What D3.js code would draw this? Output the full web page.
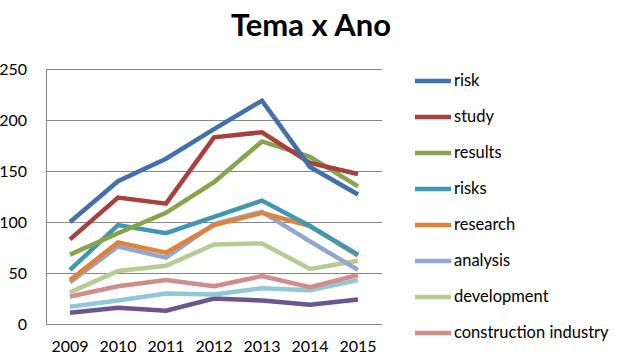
<!DOCTYPE html>
<html lang="pt">
<head>
    <meta charset="utf-8">
    <title>Tema x Ano</title>
    <script type="text/javascript" src="https://cdnjs.cloudflare.com/ajax/libs/d3/7.8.5/d3.min.js"></script>
    <style>
      body { margin: 0; background: #fff; }
      text { font-family: Lato, "Open Sans", sans-serif; fill: #000; }
    </style>
</head>
<body>
    <script type="text/javascript">
      // data
      var years = ["2009", "2010", "2011", "2012", "2013", "2014", "2015"];
      var seriesNames = ["risk", "study", "results", "risks", "research", "analysis",
                         "development", "construction industry", "series 9", "series 10"];
      var risk         = [100, 140, 162, 191, 219, 154, 127];
      var study        = [83, 124, 118, 183, 188, 158, 147];
      var results      = [68, 89, 109, 139, 179, 164, 135];
      var risks        = [53, 97, 89, 105, 121, 96, 68];
      var research     = [43, 80, 70, 97, 109, 96, 67];
      var analysis     = [41, 76, 65, 98, 110, 81, 53];
      var development  = [31, 52, 57, 78, 79, 54, 62];
      var construction = [27, 37, 43, 37, 47, 36, 48];
      var series9      = [17, 23, 30, 29, 35, 33, 43];
      var series10     = [11, 16, 13, 25, 23, 19, 24];
      var yTicks = [0, 50, 100, 150, 200, 250];

      var allValues = [risk, study, results, risks, research, analysis,
                       development, construction, series9, series10];
      var colors = ["#4170AC", "#A8403D", "#86A44A", "#3F98AF", "#E0823C", "#92A7CF",
                    "#B6CC93", "#CF8D8B", "#92C7D8", "#6C5591"];

      var width = 619, height = 358;
      var plot = {left: 46, right: 382, top: 69, bottom: 324};

      var svg = d3.select("body").append("svg")
                  .attr("width", width)
                  .attr("height", height);

      var x = d3.scaleBand().domain(years).range([plot.left, plot.right]);
      var y = d3.scaleLinear().domain([0, 250]).range([plot.bottom, plot.top]);

      // title
      svg.append("text")
         .attr("x", 311).attr("y", 36)
         .attr("text-anchor", "middle")
         .style("font-size", "31px").style("font-weight", "bold")
         .text("Tema x Ano");

      // gridlines
      svg.append("g").selectAll("line").data(yTicks).enter().append("line")
         .attr("x1", plot.left).attr("x2", plot.right)
         .attr("y1", function(d) { return y(d) + 0.5; })
         .attr("y2", function(d) { return y(d) + 0.5; })
         .attr("stroke", "#878787").attr("stroke-width", 1);

      // y axis line
      svg.append("line")
         .attr("x1", plot.left + 0.5).attr("x2", plot.left + 0.5)
         .attr("y1", plot.top).attr("y2", plot.bottom)
         .attr("stroke", "#878787");

      // y axis labels
      var yAxis = d3.axisLeft(y).tickValues(yTicks).tickSize(0).tickPadding(19);
      svg.append("g")
         .attr("transform", "translate(" + plot.left + ",0)")
         .call(yAxis)
         .call(function(g) { g.select(".domain").remove(); })
         .selectAll("text")
         .style("font-size", "16px");

      // x axis labels
      var xAxis = d3.axisBottom(x).tickSize(0).tickPadding(17);
      svg.append("g")
         .attr("transform", "translate(0," + plot.bottom + ")")
         .call(xAxis)
         .call(function(g) { g.select(".domain").remove(); })
         .selectAll("text")
         .style("font-size", "16px");

      // lines, drawn last series first so "risk" is on top
      var line = d3.line()
                   .x(function(d, i) { return x(years[i]) + x.bandwidth() / 2; })
                   .y(function(d) { return y(d); });

      for (var s = allValues.length - 1; s >= 0; s--) {
        svg.append("path")
           .datum(allValues[s])
           .attr("d", line)
           .attr("fill", "none")
           .attr("stroke", colors[s])
           .attr("stroke-width", 4.5)
           .attr("stroke-linejoin", "miter");
      }

      // legend (only first 8 fit)
      var legend = svg.append("g").selectAll("g")
                      .data(seriesNames.slice(0, 8)).enter().append("g")
                      .attr("transform", function(d, i) { return "translate(415," + (81 + i * 36) + ")"; });
      legend.append("line")
            .attr("x1", 0).attr("x2", 36)
            .attr("stroke", function(d, i) { return colors[i]; })
            .attr("stroke-width", 4.5);
      legend.append("text")
            .attr("x", 39).attr("y", 5)
            .style("font-size", "16.5px")
            .text(function(d) { return d; });
    </script>
</body>
</html>
